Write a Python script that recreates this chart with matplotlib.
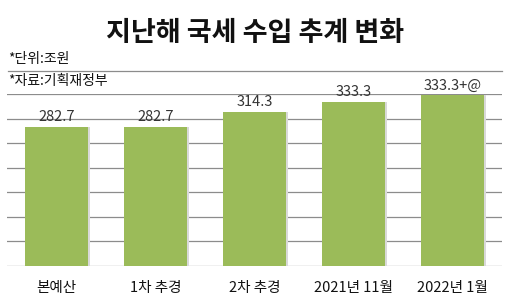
import matplotlib
matplotlib.use("Agg")
from matplotlib import pyplot as plt

plt.rcParams['font.family'] = ['Noto Sans CJK KR', 'DejaVu Sans']

# data
categories = ['본예산', '1차 추경', '2차 추경', '2021년 11월', '2022년 1월']
values = [282.7, 282.7, 314.3, 333.3, 347.0]
value_labels = ['282.7', '282.7', '314.3', '333.3', '333.3+@']
ticks = [0, 50, 100, 150, 200, 250, 300, 350]

bar_col = '#9bbb59'
grid_col = '#8c8c8c'

fig = plt.figure(figsize=(5.10, 2.98), dpi=100)
ax = fig.add_axes([7 / 510, 1 - 266 / 298, 495 / 510, 172 / 298])

x = list(range(len(categories)))
# soft shadow on the right of each bar
ax.bar([i + 0.025 for i in x], values, width=0.635, color='#d9d9d9', zorder=2)
ax.bar(x, values, width=0.635, color=bar_col, zorder=3)

for t in ticks:
    ax.axhline(t, color=grid_col, lw=0.9, zorder=1)

for i, (v, lab) in enumerate(zip(values, value_labels)):
    ax.text(i, v + 6, lab, ha='center', va='bottom', fontsize=10.5, color='#333333')

ax.set_xlim(-0.5, len(categories) - 0.5)
ax.set_ylim(0, 350)
ax.set_yticks([])
ax.set_xticks(x)
ax.set_xticklabels(categories, fontsize=10.5, color='#111111')
ax.tick_params(axis='x', length=0, pad=11)
for s in ax.spines.values():
    s.set_visible(False)

fig.text(0.5, 1 - 33 / 298, '지난해 국세 수입 추계 변화', ha='center', va='center',
         fontsize=19.5, fontweight='bold', color='#111111')
fig.text(8 / 510, 1 - 59 / 298, '*단위:조원', ha='left', va='center', fontsize=10, color='#111111')
fig.text(8 / 510, 1 - 81 / 298, '*자료:기획재정부', ha='left', va='center', fontsize=10, color='#111111')
fig.add_artist(plt.Line2D([8 / 510, 502 / 510], [1 - 70.5 / 298, 1 - 70.5 / 298],
                          color=grid_col, lw=0.9))

fig.savefig('out.png', dpi=100)
